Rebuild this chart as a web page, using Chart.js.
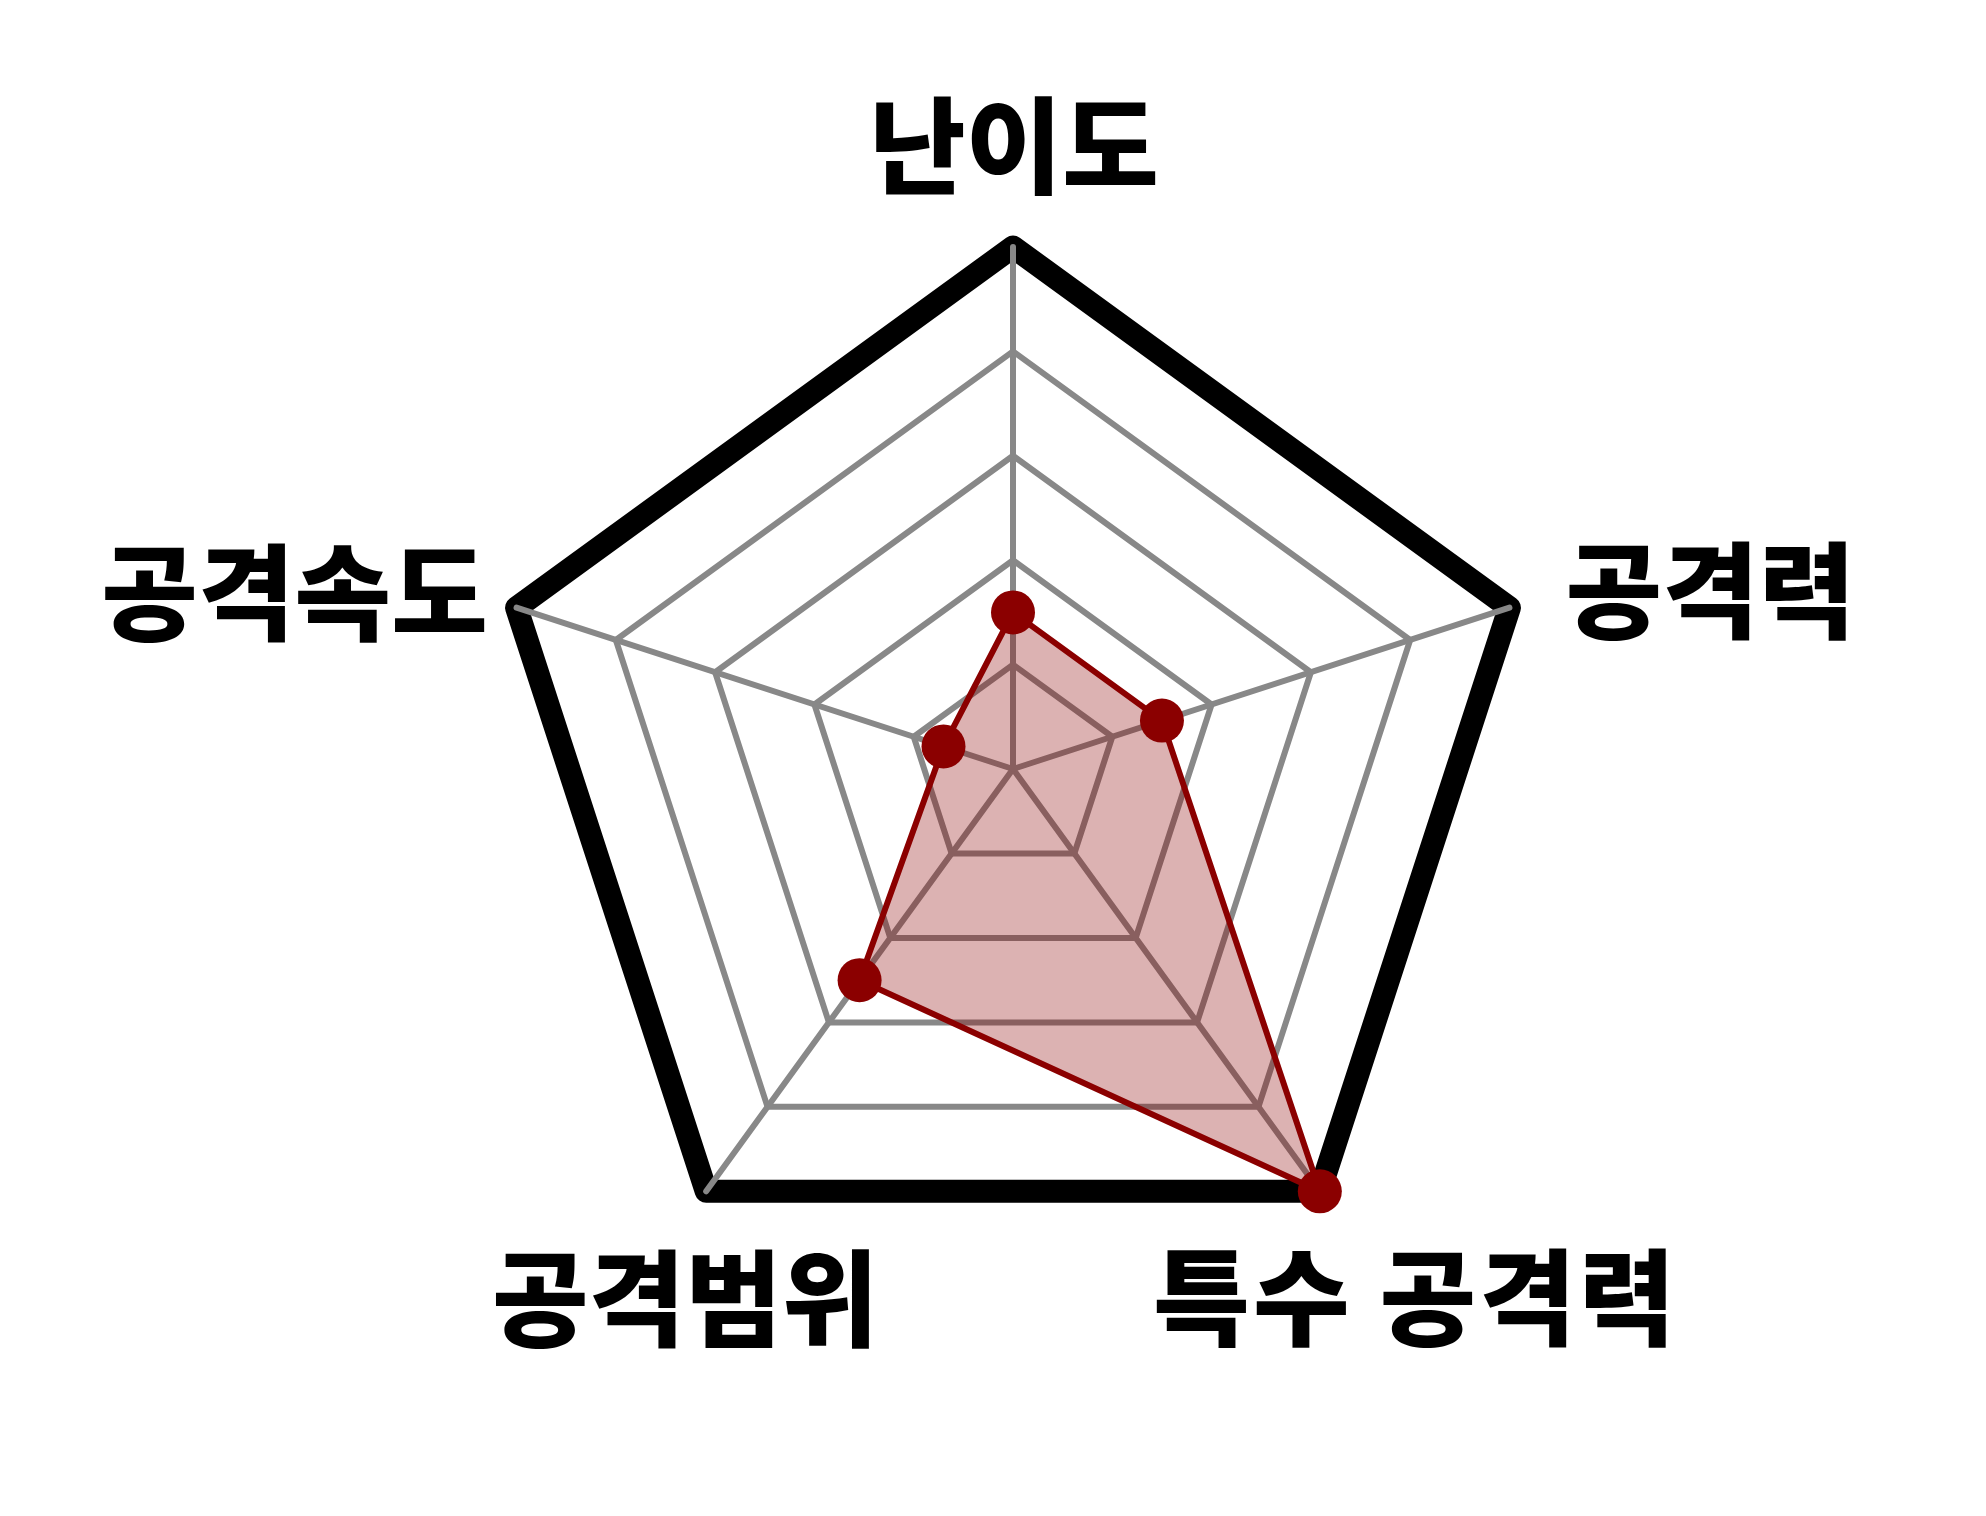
<!DOCTYPE html>
<html><head><meta charset="utf-8">
<script src="https://cdn.jsdelivr.net/npm/chart.js@4.4.1/dist/chart.umd.min.js"></script>
<style>html,body{margin:0;padding:0;background:#fff;} canvas{display:block;}</style>
</head><body>
<canvas id="c" width="1986" height="1516" style="width:1986px;height:1516px"></canvas>
<script>
const categories = ['난이도', '공격력', '특수 공격력', '공격범위', '공격속도'];
const seriesValues = [1.5, 1.5, 5, 2.5, 0.7];
const tickMin = 0;
const tickMax = 5;
const tickStep = 1;

// label placement relative to each outer vertex (layout only)
const labelLayout = [
  {dx: 1, dy: -102, ls: 0},
  {dx: 201, dy: -18, ls: 0},
  {dx: 96, dy: 106, ls: 3},
  {dx: -21, dy: 107, ls: 0},
  {dx: -222, dy: -16, ls: 0}
];

const joinPlugin = {
  id: 'joins',
  beforeDraw(chart) { chart.ctx.lineJoin = 'round'; chart.ctx.lineCap = 'round'; },
  afterDraw(chart) { chart.ctx.lineJoin = 'miter'; chart.ctx.lineCap = 'butt'; }
};

const labelPlugin = {
  id: 'axisLabels',
  afterDraw(chart) {
    const s = chart.scales.r;
    const ctx = chart.ctx;
    ctx.save();
    ctx.fillStyle = '#000';
    ctx.font = '900 105px "Noto Sans CJK KR"';
    ctx.textAlign = 'center';
    ctx.textBaseline = 'middle';
    categories.forEach((t, i) => {
      const p = s.getPointPosition(i, s.drawingArea);
      const o = labelLayout[i];
      ctx.letterSpacing = o.ls + 'px';
      ctx.fillText(t, p.x + o.dx, p.y + o.dy);
    });
    ctx.restore();
  }
};

new Chart(document.getElementById('c'), {
  type: 'radar',
  data: {
    labels: categories,
    datasets: [{
      data: seriesValues,
      borderColor: '#8b0000',
      backgroundColor: 'rgba(139,0,0,0.3)',
      borderWidth: 6,
      borderJoinStyle: 'round',
      pointRadius: 22,
      pointBackgroundColor: '#8b0000',
      pointBorderColor: '#8b0000',
      pointBorderWidth: 0,
      fill: true
    }]
  },
  options: {
    responsive: false,
    devicePixelRatio: 1,
    animation: false,
    layout: {padding: {left: 313, right: 273, top: 247, bottom: 225}},
    plugins: {legend: {display: false}, tooltip: {enabled: false}, title: {display: false}},
    scales: {
      r: {
        min: tickMin,
        max: tickMax,
        ticks: {display: false, stepSize: tickStep},
        pointLabels: {display: false},
        grid: {
          color: c => (c.tick && c.tick.value === tickMax) ? '#000' : '#888',
          lineWidth: c => (c.tick && c.tick.value === tickMax) ? 23 : 6
        },
        angleLines: {color: '#888', lineWidth: 6}
      }
    }
  },
  plugins: [joinPlugin, labelPlugin]
});
</script>
</body></html>
